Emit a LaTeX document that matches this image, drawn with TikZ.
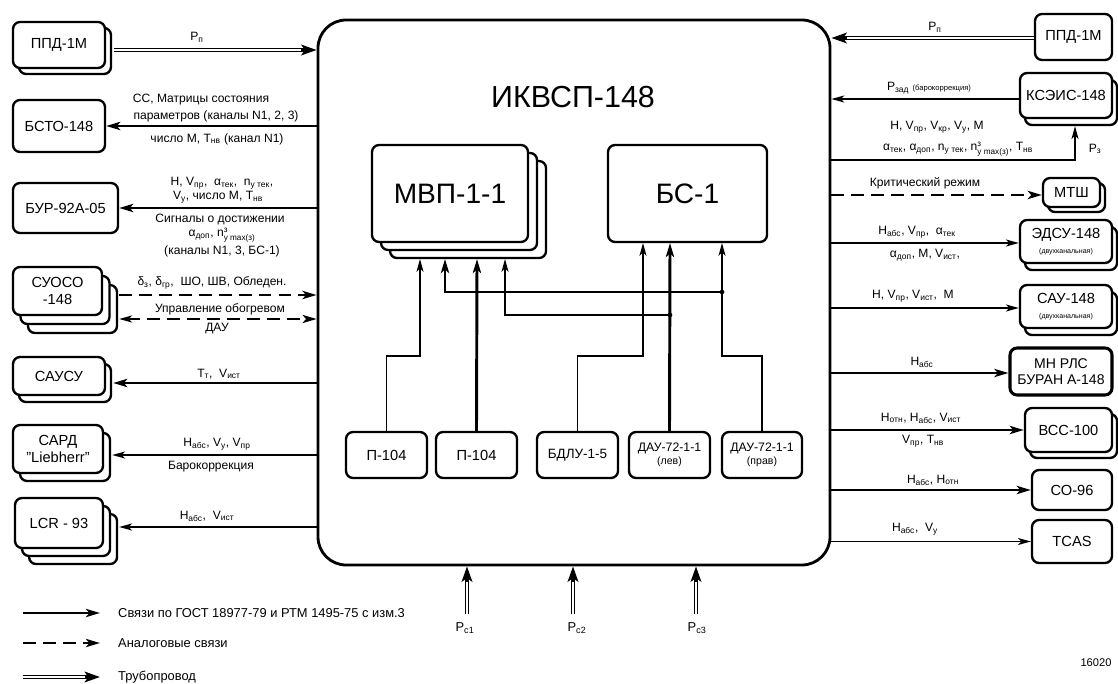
\documentclass[tikz,border=0pt]{standalone}
\usepackage{fontspec}
\setmainfont{Liberation Sans}
\usetikzlibrary{arrows.meta,shadows,calc}
\newcommand\fsz[1]{\fontsize{#1}{#1}\selectfont}
\newcommand\sbs[1]{\textsubscript{#1}}
\newcommand\nmax{$\mbox{n}^{\mbox{\fsz{7}з}}_{\mbox{\fsz{7}у max(з)}}$}
\newcommand\pxl{0.03cm}
\tikzset{
  blk/.style={draw, line width=2pt, rounded corners=6pt, fill=white, inner sep=0pt, align=center, font=\fsz{12.5}},
  sh/.style n args={2}{copy shadow={shadow xshift=#1pt, shadow yshift=-#2pt, line width=2pt}},
  tk/.style={line width=2.5pt, -{Stealth[length=12pt,width=7pt,inset=3pt]}},
  tn/.style={line width=1.2pt, -{Stealth[length=11pt,width=6pt,inset=3pt]}},
  dsh/.style={line width=2.2pt, dash pattern=on 11pt off 6pt, -{Stealth[length=12pt,width=7pt,inset=3pt]}},
  pipe/.style={line width=4.2pt, -{Stealth[length=13pt,width=9pt,inset=3pt]}, postaction={draw=white, line width=1.6pt, arrows=-, shorten >=13pt}},
  lbl/.style={inner sep=0pt, font=\fsz{10.3}},
}
\begin{document}
\begin{tikzpicture}[x=0.03cm,y=-0.03cm]
\useasboundingbox (0,0) rectangle (1118,684);
% main block
\node[blk, line width=2.4pt, rounded corners=24pt, minimum width=512*\pxl, minimum height=545*\pxl] (ikv) at (574,292.5) {};
\node[font=\fsz{26}, inner sep=0pt] (ikvT) at (573,97) {ИКВСП-148};
\node[blk, sh={15.4}{13.7}, sh={7.7}{6.8}, minimum width=156*\pxl, minimum height=97*\pxl, font=\fsz{24}] (mvp) at (450,193.5) {МВП-1-1};
\node[blk, minimum width=159*\pxl, minimum height=97*\pxl, font=\fsz{24}] (bs) at (687.5,193.5) {БС-1};
% bottom inner boxes
\node[blk, minimum width=81*\pxl, minimum height=46*\pxl] (p1) at (386.5,455) {П-104};
\node[blk, minimum width=81*\pxl, minimum height=46*\pxl] (p2) at (476.5,455) {П-104};
\node[blk, minimum width=81*\pxl, minimum height=46*\pxl, font=\fsz{11.5}] (bdlu) at (577.5,455) {БДЛУ-1-5};
\node[blk, minimum width=81*\pxl, minimum height=46*\pxl, font=\fsz{10.5}] (daul) at (669.5,455) {ДАУ-72-1-1\\[1pt]{\fsz{9}(лев)}};
\node[blk, minimum width=80*\pxl, minimum height=46*\pxl, font=\fsz{10.5}] (daur) at (762,455) {ДАУ-72-1-1\\[1pt]{\fsz{9}(прав)}};
% inner connectors
\coordinate (m1) at (420,259);
\coordinate (m2) at (445,259);
\coordinate (m3) at (477,259);
\coordinate (m4) at (505,259);
\coordinate (b1) at (643,243);
\coordinate (b2) at (670,243);
\coordinate (b3) at (722,243);
\coordinate (j1) at (722,292);
\coordinate (j2) at (670,315);
\draw[tn] (p1.north) -- ++(0,-75) -| (m1);
\draw[tk] (p2.north) -- (m3);
\draw[tn] (bdlu.north) -- ++(0,-75) -| (b1);
\draw[tk] (daul.north) -- (b2);
\draw[tn] (daur.north) -- ++(0,-75) -| (b3);
\draw[tk] (j1) -| (m2);
\draw[tn] (j2) -| (m4);
\fill (j1) circle (2pt);
\fill (j2) circle (2pt);
% left boxes
\node[blk, sh={5.1}{5.1}, minimum width=92*\pxl, minimum height=46*\pxl] (ppdL) at (59,45) {ППД-1М};
\node[blk, minimum width=92*\pxl, minimum height=52*\pxl] (bsto) at (59,126) {БСТО-148};
\node[blk, minimum width=105*\pxl, minimum height=50*\pxl] (bur) at (65.5,208) {БУР-92А-05};
\node[blk, sh={12.8}{15.4}, sh={6.4}{7.7}, minimum width=89*\pxl, minimum height=48*\pxl] (suoso) at (57.5,291) {СУОСО\\[2pt]-148};
\node[blk, sh={5.1}{6}, minimum width=92*\pxl, minimum height=38*\pxl] (sausu) at (59,376) {САУСУ};
\node[blk, sh={6}{6.8}, minimum width=90*\pxl, minimum height=48*\pxl] (sard) at (58,449) {САРД\\[2pt]"Liebherr"};
\node[blk, sh={12}{13.7}, sh={6}{6.8}, minimum width=88*\pxl, minimum height=50*\pxl] (lcr) at (59,523) {LCR - 93};
% right boxes
\node[blk, minimum width=77*\pxl, minimum height=46*\pxl] (ppdR) at (1073.5,37) {ППД-1М};
\node[blk, sh={4.3}{6}, minimum width=92*\pxl, minimum height=45*\pxl] (kseis) at (1066,95.5) {КСЭИС-148};
\node[blk, sh={4.3}{4.3}, minimum width=57*\pxl, minimum height=29*\pxl] (mtsh) at (1071.5,192.5) {МТШ};
\node[blk, sh={4.3}{6}, minimum width=92*\pxl, minimum height=43*\pxl] (edsu) at (1066,241.5) {ЭДСУ-148\\{\fsz{6}(двухканальная)}};
\node[blk, sh={4.3}{6}, minimum width=92*\pxl, minimum height=43*\pxl] (sau) at (1066,306.5) {САУ-148\\{\fsz{6}(двухканальная)}};
\node[blk, line width=2.6pt, minimum width=102*\pxl, minimum height=47*\pxl, font=\fsz{12}] (mnrls) at (1061,371.5) {МН РЛС\\[2pt]БУРАН А-148};
\node[blk, sh={4.3}{5.1}, minimum width=87*\pxl, minimum height=44*\pxl] (vss) at (1068.5,430) {ВСС-100};
\node[blk, minimum width=80*\pxl, minimum height=40*\pxl] (so96) at (1072,490) {СО-96};
\node[blk, minimum width=80*\pxl, minimum height=43*\pxl] (tcas) at (1072,541.5) {TCAS};
% left connectors
\draw[pipe] ($(ppdL.east)+(8,5)$) -- ($(ikv.west|-ppdL.east)+(0,5)$);
\draw[tk] (ikv.west|-bsto.east) -- (bsto.east);
\draw[tk] (ikv.west|-bur.east) -- (bur.east);
\draw[dsh] ($(suoso.east)+(16,4)$) -- ($(ikv.west|-suoso.east)+(0,4)$);
\draw[dsh, line width=1.8pt, {Stealth[length=11pt,width=6pt,inset=3pt]}-{Stealth[length=12pt,width=7pt,inset=3pt]}] ($(suoso.east)+(16,28)$) -- ($(ikv.west|-suoso.east)+(0,28)$);
\draw[tk] ($(ikv.west|-sausu.east)+(0,7)$) -- ($(sausu.east)+(7,7)$);
\draw[tn] ($(ikv.west|-sard.east)+(0,6)$) -- ($(sard.east)+(8,6)$);
\draw[tn] ($(ikv.west|-lcr.east)+(0,4)$) -- ($(lcr.east)+(15,4)$);
% right connectors
\draw[pipe] ($(ppdR.west)+(0,1)$) -- ($(ikv.east|-ppdR.west)+(0,1)$);
\draw[tn] ($(kseis.west)+(0,3.5)$) -- ($(ikv.east|-kseis.west)+(0,3.5)$);
\draw[tn] ($(ikv.east|-kseis.south)+(0,41)$) -| ($(kseis.south)+(9,7)$);
\draw[dsh] ($(ikv.east|-mtsh.west)+(0,2.5)$) -- ($(mtsh.west)+(0,2.5)$);
\draw[tn] ($(ikv.east|-edsu.west)+(0,1.5)$) -- ($(edsu.west)+(0,1.5)$);
\draw[tn] ($(ikv.east|-sau.west)+(0,1.5)$) -- ($(sau.west)+(0,1.5)$);
\draw[tk] ($(ikv.east|-mnrls.west)+(0,1.5)$) -- ($(mnrls.west)+(0,1.5)$);
\draw[tk] (ikv.east|-vss.west) -- (vss.west);
\draw[tk] (ikv.east|-so96.west) -- (so96.west);
\draw[tn] (ikv.east|-tcas.west) -- (tcas.west);
% bottom pipes
\draw[pipe] ($(ikv.south)+(-107,48)$) -- ($(ikv.south)+(-107,0)$);
\draw[pipe] ($(ikv.south)+(-1,48)$) -- ($(ikv.south)+(-1,0)$);
\draw[pipe] ($(ikv.south)+(122,48)$) -- ($(ikv.south)+(122,0)$);
\node[lbl, font=\fsz{11}] (pc1) at (465,628) {P\sbs{с1}};
\node[lbl, font=\fsz{11}] (pc2) at (577,628) {P\sbs{с2}};
\node[lbl, font=\fsz{11}] (pc3) at (697,628) {P\sbs{с3}};
% left labels
\node[lbl] (la0) at (197,37) {P\sbs{п}};
\node[lbl] (la1) at (201,100) {СС, Матрицы состояния};
\node[lbl] (la2) at (216,116) {параметров (каналы N1, 2, 3)};
\node[lbl] (la3) at (217,139) {число М, T\sbs{нв} (канал N1)};
\node[lbl] (lb1) at (222,183) {H, V\sbs{пр}, \ α\sbs{тек}, \ n\sbs{у тек},};
\node[lbl] (lb2) at (218,197) {V\sbs{у}, число М, T\sbs{нв}};
\node[lbl] (lb3) at (220,219) {Сигналы о достижении};
\node[lbl] (lb4) at (222,235) {α\sbs{доп}, \nmax};
\node[lbl] (lb5) at (222,251) {(каналы N1, 3, БС-1)};
\node[lbl] (lc1) at (212,283) {δ\sbs{з}, δ\sbs{гр}, \ ШО, ШВ, Обледен.};
\node[lbl] (lc2) at (220,309) {Управление обогревом};
\node[lbl] (lc3) at (217,329) {ДАУ};
\node[lbl] (ld1) at (219,374) {T\sbs{т}, \ V\sbs{ист}};
\node[lbl] (le1) at (217,444) {H\sbs{абс}, V\sbs{у}, V\sbs{пр}};
\node[lbl] (le2) at (211,467) {Барокоррекция};
\node[lbl] (lf1) at (207,516) {H\sbs{абс}, \ V\sbs{ист}};
% right labels
\node[lbl] (ra0) at (935,27) {P\sbs{п}};
\node[lbl] (ra1) at (929,88) {P\sbs{зад} {\fsz{6.5}(барокоррекция)}};
\node[lbl] (ra2) at (937,127) {H, V\sbs{пр}, V\sbs{кр}, V\sbs{у}, M};
\node[lbl] (ra3) at (958,149) {α\sbs{тек}, α\sbs{доп}, n\sbs{у тек}, \nmax, T\sbs{нв}};
\node[lbl] (ra4) at (1095,149) {P\sbs{з}};
\node[lbl] (rb1) at (925,183) {Критический режим};
\node[lbl] (rc1) at (917,232) {H\sbs{абс}, V\sbs{пр}, \ α\sbs{тек}};
\node[lbl] (rc2) at (925,255) {α\sbs{доп}, M, V\sbs{ист},};
\node[lbl] (rd1) at (913,296) {H, V\sbs{пр}, V\sbs{ист}, \ M};
\node[lbl] (re1) at (922,362) {H\sbs{абс}};
\node[lbl] (rf1) at (921,418) {H\sbs{отн}, H\sbs{абс}, V\sbs{ист}};
\node[lbl] (rf2) at (923,441) {V\sbs{пр}, T\sbs{нв}};
\node[lbl] (rg1) at (933,480) {H\sbs{абс}, H\sbs{отн}};
\node[lbl] (rh1) at (915,529) {H\sbs{абс}, \ V\sbs{у}};
% legend
\coordinate (lga1) at (23,613);
\coordinate (lgb1) at (100,613);
\coordinate (lga2) at (23,643);
\coordinate (lgb2) at (100,643);
\coordinate (lga3) at (23,677);
\coordinate (lgb3) at (100,677);
\draw[tk] (lga1) -- (lgb1);
\draw[dsh] (lga2) -- (lgb2);
\draw[pipe] (lga3) -- (lgb3);
\node[lbl, anchor=west, font=\fsz{11}] (lgt1) at (118,613) {Связи по ГОСТ 18977-79 и РТМ 1495-75 с изм.3};
\node[lbl, anchor=west, font=\fsz{11}] (lgt2) at (118,643) {Аналоговые связи};
\node[lbl, anchor=west, font=\fsz{11}] (lgt3) at (118,677) {Трубопровод};
\node[lbl, font=\fsz{9.5}] (num) at (1096,663) {16020};
\end{tikzpicture}
\end{document}
